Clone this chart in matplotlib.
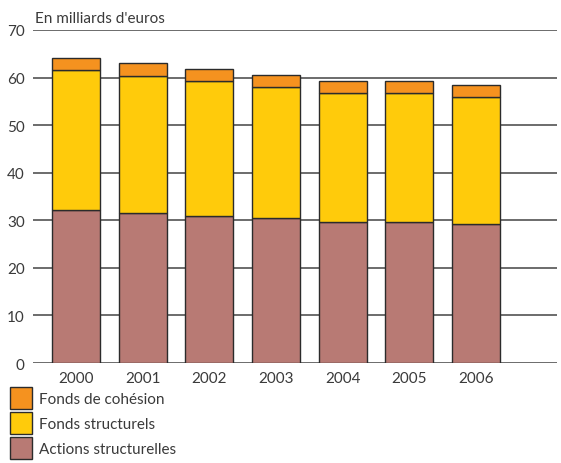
import matplotlib
matplotlib.use("Agg")
import matplotlib.pyplot as plt
import numpy as np

plt.rcParams['font.family'] = ['Lato', 'DejaVu Sans']

years = ['2000', '2001', '2002', '2003', '2004', '2005', '2006']
actions = [32.1, 31.5, 30.9, 30.4, 29.7, 29.6, 29.2]
fonds_struct_top = [61.6, 60.4, 59.2, 58.0, 56.8, 56.8, 55.9]
cohesion_top = [64.1, 63.0, 61.7, 60.6, 59.2, 59.2, 58.4]

fonds_struct = [t - a for t, a in zip(fonds_struct_top, actions)]
cohesion = [c - t for c, t in zip(cohesion_top, fonds_struct_top)]

c_act = '#B87A74'
c_str = '#FFCB0B'
c_coh = '#F5921F'
edge = '#2b2b2b'
txt = '#3a3a3a'

fig = plt.figure(figsize=(5.61, 4.64), dpi=100)
ax = fig.add_axes([0.0588, 0.2155, 0.934, 0.7177])

x = np.arange(len(years))
w = 0.72
b1 = ax.bar(x, actions, w, color=c_act, edgecolor=edge, linewidth=1, zorder=3,
            label='Actions structurelles')
b2 = ax.bar(x, fonds_struct, w, bottom=actions, color=c_str, edgecolor=edge,
            linewidth=1, zorder=3, label='Fonds structurels')
b3 = ax.bar(x, cohesion, w, bottom=fonds_struct_top, color=c_coh, edgecolor=edge,
            linewidth=1, zorder=3, label='Fonds de cohésion')

ax.set_ylim(0, 70)
ax.set_xlim(-0.645, 7.215)
ax.set_yticks(range(0, 71, 10))
ax.set_xticks(x)
ax.set_xticklabels(years)
for s in ax.spines.values():
    s.set_visible(False)
ax.yaxis.grid(True, color='#444444', linewidth=1.1, zorder=0)
ax.set_axisbelow(True)
ax.tick_params(axis='both', length=0, labelsize=11, colors=txt)
ax.tick_params(axis='y', pad=6)
ax.tick_params(axis='x', pad=6)

fig.text(0.062, 0.959, "En milliards d'euros", fontsize=11, color=txt,
         ha='left', va='center')

fig.legend(handles=[b3, b2, b1], loc='upper left',
           bbox_to_anchor=(0.017, 0.164), frameon=False, fontsize=11,
           handlelength=1.44, handleheight=1.85, labelspacing=0.2,
           handletextpad=0.46, borderpad=0, borderaxespad=0, labelcolor=txt)

fig.savefig('out.png', dpi=100)
